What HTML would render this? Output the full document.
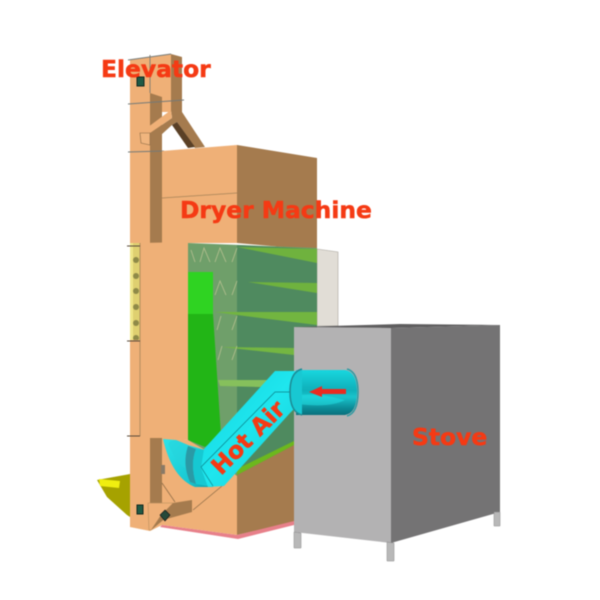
<!DOCTYPE html>
<html><head><meta charset="utf-8"><style>
html,body{margin:0;padding:0;background:#fff;width:600px;height:600px;overflow:hidden}
svg{display:block;filter:blur(.4px)}
text{font-family:"DejaVu Sans",sans-serif;font-weight:bold;fill:#f53a14;stroke:#f53a14;stroke-width:.5px}
</style></head><body>
<svg width="600" height="600" viewBox="0 0 600 600" xmlns="http://www.w3.org/2000/svg">
<defs>
<linearGradient id="pipeH" x1="0" y1="0" x2="0" y2="1"><stop offset="0" stop-color="#18d6de"/><stop offset=".45" stop-color="#0fb0ba"/><stop offset=".6" stop-color="#1ac4cc"/><stop offset=".85" stop-color="#0b8a96"/><stop offset="1" stop-color="#0a6f7c"/></linearGradient>
<linearGradient id="pipeD" x1="0" y1="0" x2="1" y2="1"><stop offset="0" stop-color="#12d3dd"/><stop offset=".5" stop-color="#1fe6ee"/><stop offset="1" stop-color="#18cbd6"/></linearGradient>
<linearGradient id="elbow" x1="0" y1="0" x2="1" y2="1"><stop offset="0" stop-color="#2ce4ea"/><stop offset=".7" stop-color="#18c8d2"/><stop offset="1" stop-color="#0e9aa6"/></linearGradient>
</defs>
<!-- hopper -->
<polygon points="97,480 130,474 130,517 127,515 107,497" fill="#a6a200"/>
<polygon points="99,479 120,481 119,488 100,486" fill="#f0ee10"/>
<!-- back panel -->
<polygon points="317,249 338,252 338,326 317,326" fill="#e1ddd6" stroke="#a8a49c" stroke-width=".6"/>
<!-- elevator column -->
<polygon points="130,60 171,54 171,112 162,112 162,243 140,243 140,436 162,436 162,525 150,531 130,527" fill="#efb077"/>
<polygon points="171,54 182,57 182,112 171,112" fill="#a57b4e"/>
<polygon points="150,93 162,97 162,243 150,243" fill="#a57b4e"/>
<line x1="150" y1="55" x2="150" y2="93" stroke="#8a8170" stroke-width="1"/>
<!-- arm -->
<polygon points="171,110 182,112 205,147 195,148 177,122 172,125 161,135 161,152 150,152 150,133 172,118" fill="#a57b4e"/>
<polygon points="172,125 177,122 195,147 188,148" fill="#5a4026"/>
<polygon points="171,110 140,133 150,133 172,118" fill="#efb077"/>
<polygon points="140,133 150,133 150,145 141,143" fill="#f0b57e" stroke="#8a6a45" stroke-width=".6"/>
<rect x="137" y="77" width="7" height="9" fill="#1f5a45" stroke="#102820" stroke-width="1"/>
<!-- guide lines -->
<g stroke="#747a78" stroke-width="1" fill="none">
<line x1="128" y1="104" x2="184" y2="100"/>
<line x1="128" y1="152" x2="164" y2="151"/>
<line x1="128" y1="60" x2="171" y2="54"/>
</g>
<!-- dryer top -->
<polygon points="162,151 237,145 237,243 162,243" fill="#efb077"/>
<polygon points="237,145 317,158 317,250 237,243" fill="#a57b4e"/>
<line x1="162" y1="198" x2="237" y2="193" stroke="#a58358" stroke-width=".8"/>
<!-- window -->
<polygon points="188,243 317,248 317,445 237,478 188,445" fill="#6f9f6a"/>
<polygon points="237,245 317,249 317,445 237,478" fill="#4f8a5f"/>
<polygon points="237,247 317,249 317,263" fill="#6fb23e"/>
<polygon points="248,282 317,283 317,293" fill="#6fb23e"/>
<polygon points="215,312 317,312 317,325 237,315" fill="#72b540"/>
<polygon points="222,347 294,348 294,355" fill="#74b642"/>
<polygon points="218,380 280,380 260,387 220,386" fill="#86c05c"/>
<polygon points="188,272 213,272 213,314 188,314" fill="#2fd322"/>
<polygon points="188,314 213,314 221,435 205,447 188,440" fill="#22b516"/>
<g stroke="#c8c89a" stroke-width=".8" fill="none" opacity=".8">
<path d="M191,250l4,12M200,262l4,-14l6,14M215,262l5,-14l6,14M232,262l5,-14"/>
<path d="M215,295l5,-14l6,14M232,295l5,-14"/>
<path d="M217,330l4,-14M232,330l5,-14"/>
<path d="M218,360l4,-14M232,360l5,-14"/>
</g>
<!-- lower body -->
<polygon points="130,243 140,243 140,340 130,340" fill="#dfd070"/>
<polygon points="130,243 133,243 133,340 130,340" fill="#efe68a"/>
<g fill="#8f8a48"><circle cx="136" cy="260" r="3"/><circle cx="136" cy="276" r="3"/><circle cx="136" cy="291" r="3"/><circle cx="136" cy="307" r="3"/><circle cx="136" cy="323" r="3"/><circle cx="136" cy="338" r="3"/></g>
<polygon points="140,243 188,242 188,440 140,436" fill="#efb077"/>
<polygon points="130,340 140,340 140,436 130,436" fill="#efb077"/>
<line x1="140" y1="243" x2="140" y2="436" stroke="#a58358" stroke-width=".8"/>
<g stroke="#5a4a3a" stroke-width="1"><line x1="127" y1="246" x2="140" y2="246"/><line x1="127" y1="341" x2="140" y2="341"/><line x1="127" y1="436" x2="140" y2="436"/></g>
<!-- bottom section -->
<polygon points="150,436 188,440 205,450 237,476 237,535 162,525 150,530" fill="#efb077"/>
<polygon points="237,475 294,445 294,522 237,535" fill="#a57b4e"/>
<polygon points="237,475 294,445 294,441 237,469" fill="#6cb81d"/>
<polygon points="150,438 162,438 162,503 150,503" fill="#a57b4e"/>
<polygon points="162,525 237,535 294,521 294,525 238,539 160,527" fill="#e7808a"/>
<g stroke="#8a6a45" stroke-width=".7" fill="none"><line x1="162" y1="483" x2="175" y2="502"/><line x1="193" y1="510" x2="222" y2="486"/></g>
<rect x="161" y="465" width="4" height="9" fill="#8a7a66"/>
<!-- lower hopper -->
<polygon points="148,503 173,503 163,520 151,530 149,530" fill="#efb077" stroke="#b08a5a" stroke-width=".5"/>
<polygon points="173,503 192,500 192,512 163,520 151,530 161,515" fill="#a57b4e"/>
<polygon points="165,510 170,515 165,521 160,515" fill="#25493a" stroke="#111" stroke-width=".6"/>
<rect x="137" y="505" width="6" height="9" fill="#1f5a45" stroke="#102820"/>
<!-- stove -->
<polygon points="294,327 391,328 391,543 294,532" fill="#b3b2b3"/>
<polygon points="391,328 500,325 500,512 391,543" fill="#747374"/>
<polygon points="294,327 391,328 500,325 400,324" fill="#5e5d5e"/>
<polygon points="294,532 301,533 301,548 294,548" fill="#b8b8b8" stroke="#888" stroke-width=".5"/>
<polygon points="387,542 394,543 394,561 387,561" fill="#b8b8b8" stroke="#888" stroke-width=".5"/>
<polygon points="494,512 500,512 500,526 494,526" fill="#b8b8b8" stroke="#888" stroke-width=".5"/>
<!-- pipe: elbow -->
<path d="M163,439 L176,440 L188,445 L205,450 L213,487 L195,487 Q172,478 163,439Z" fill="url(#elbow)"/>
<path d="M176,440 Q165,441 170,448 Q176,462 187,470 L188,445Z" fill="#26d4dc" opacity=".6"/>
<path d="M188,446 Q182,464 190,482 L196,484 Q190,464 196,449Z" fill="#2a9aa6"/>
<path d="M196,449 Q190,464 196,484 L212,487 L205,450Z" fill="#16c8d2"/>
<!-- pipe: diagonal -->
<polygon points="204,449 275,371 298,371 298,405 290,413 224,486 208,487 201,468" fill="url(#pipeD)"/>
<polyline points="201,467 275,392 297,392" fill="none" stroke="#0b7f88" stroke-width=".7"/>
<line x1="201" y1="467" x2="213" y2="486" stroke="#0b7f88" stroke-width=".7"/>
<!-- pipe: horizontal -->
<path d="M296,370 H345 Q357,372 357,392 Q357,413 345,415 H296Z" fill="url(#pipeH)"/>
<path d="M297,395 L318,394 L345,400 Q330,408 298,404Z" fill="#22dfe4" opacity=".55"/>
<path d="M347,369 Q358,372 358,392 Q358,413 347,416" fill="none" stroke="#2e9aa2" stroke-width="1.5"/>
<path d="M302,369 Q290,372 290,392 Q290,412 302,415" fill="#18c8d2" stroke="#1d8a94" stroke-width="1.5"/>
<path d="M309,392l13,-6v3h24v5h-24v3z" fill="#ea2b20"/>
<!-- labels -->
<text x="101" y="77" font-size="23.4">Elevator</text>
<text x="180" y="218" font-size="23.4">Dryer Machine</text>
<text x="412" y="445" font-size="23.4">Stove</text>
<text x="0" y="0" font-size="23.4" transform="translate(221,476) rotate(-45)">Hot Air</text>
</svg>
</body></html>
